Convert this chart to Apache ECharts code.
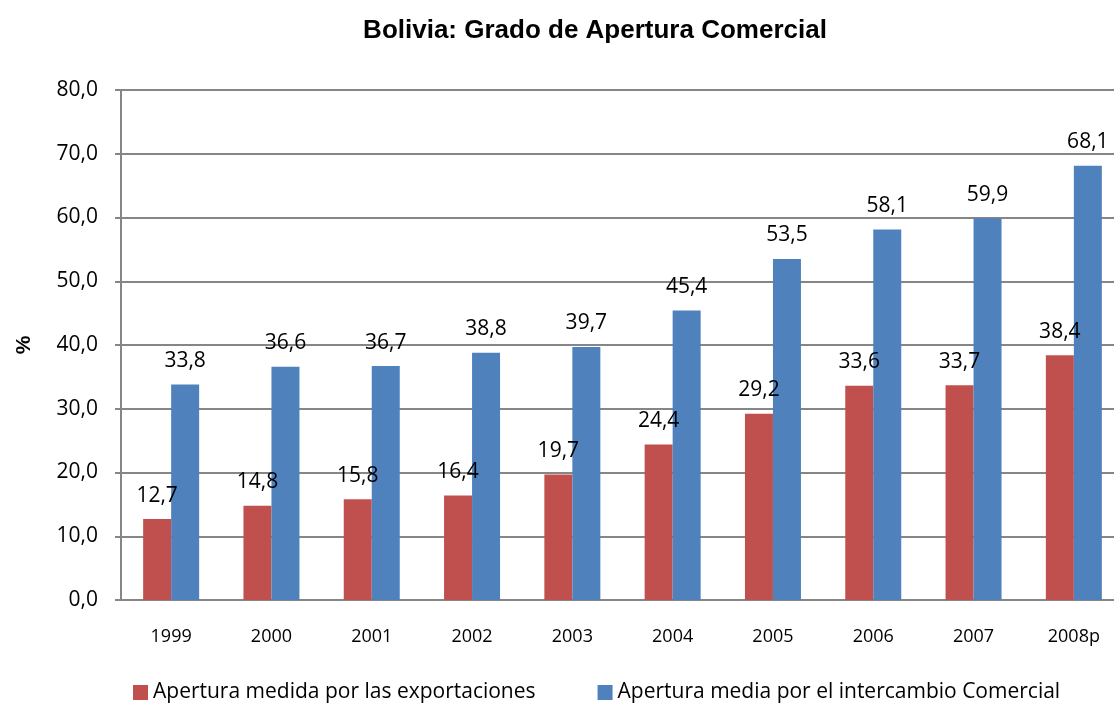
<!DOCTYPE html>
<html>
<head>
<meta charset="utf-8">
<script src="https://cdn.jsdelivr.net/npm/echarts@6/dist/echarts.min.js"></script>
<style>
    html, body { margin: 0; padding: 0; background: #fff; }
    #chart { width: 1114px; height: 704px; }
</style>
</head>
<body>
<div id="chart"></div>
<script>
    var years = ['1999', '2000', '2001', '2002', '2003', '2004', '2005', '2006', '2007', '2008p'];
    var exportaciones = [12.7, 14.8, 15.8, 16.4, 19.7, 24.4, 29.2, 33.6, 33.7, 38.4];
    var intercambio = [33.8, 36.6, 36.7, 38.8, 39.7, 45.4, 53.5, 58.1, 59.9, 68.1];

    var fmt = function (v) {
        return v.toFixed(1).replace('.', ',');
    };
    var labelFont = 'Open Sans';

    var chart = echarts.init(document.getElementById('chart'));
    chart.setOption({
        animation: false,
        title: {
            text: 'Bolivia: Grado de Apertura Comercial',
            left: 590,
            textAlign: 'center',
            top: 13,
            textStyle: {
                fontFamily: 'Liberation Sans',
                fontWeight: 'bold',
                fontSize: 26,
                color: '#000'
            }
        },
        grid: {
            left: 121,
            width: 1003,
            top: 90,
            bottom: 104,
            outerBoundsMode: 'none'
        },
        legend: {
            bottom: -4,
            left: 128,
            itemWidth: 15,
            itemHeight: 15,
            itemGap: 62,
            icon: 'rect',
            textStyle: {
                fontFamily: labelFont,
                fontSize: 21,
                color: '#000'
            }
        },
        xAxis: {
            type: 'category',
            data: years,
            axisLine: { lineStyle: { color: '#868686', width: 2 } },
            axisTick: { show: false },
            axisLabel: {
                margin: 28,
                fontFamily: labelFont,
                fontSize: 18,
                color: '#000'
            }
        },
        yAxis: {
            type: 'value',
            min: 0,
            max: 80,
            interval: 10,
            name: '%',
            nameLocation: 'middle',
            nameGap: 86,
            nameTextStyle: {
                fontFamily: 'Liberation Sans',
                fontWeight: 'bold',
                fontSize: 21,
                color: '#000'
            },
            axisLine: { show: true, lineStyle: { color: '#868686', width: 2 } },
            axisTick: { show: true, length: 6, lineStyle: { color: '#868686', width: 2 } },
            splitLine: { lineStyle: { color: '#868686', width: 2 } },
            axisLabel: {
                margin: 23,
                fontFamily: labelFont,
                fontSize: 21,
                color: '#000',
                formatter: function (v) { return fmt(v); }
            }
        },
        series: [{
            name: 'Apertura medida por las exportaciones',
            type: 'bar',
            data: exportaciones,
            barWidth: 28,
            barGap: '0%',
            itemStyle: { color: '#C0504D' },
            label: {
                show: true,
                position: 'top',
                distance: 13,
                fontFamily: labelFont,
                fontSize: 21,
                color: '#000',
                formatter: function (p) { return fmt(p.value); }
            }
        }, {
            name: 'Apertura media por el intercambio Comercial',
            type: 'bar',
            data: intercambio,
            barWidth: 28,
            barGap: '0%',
            itemStyle: { color: '#4F81BD' },
            label: {
                show: true,
                position: 'top',
                distance: 13,
                fontFamily: labelFont,
                fontSize: 21,
                color: '#000',
                formatter: function (p) { return fmt(p.value); }
            }
        }]
    });
</script>
</body>
</html>
